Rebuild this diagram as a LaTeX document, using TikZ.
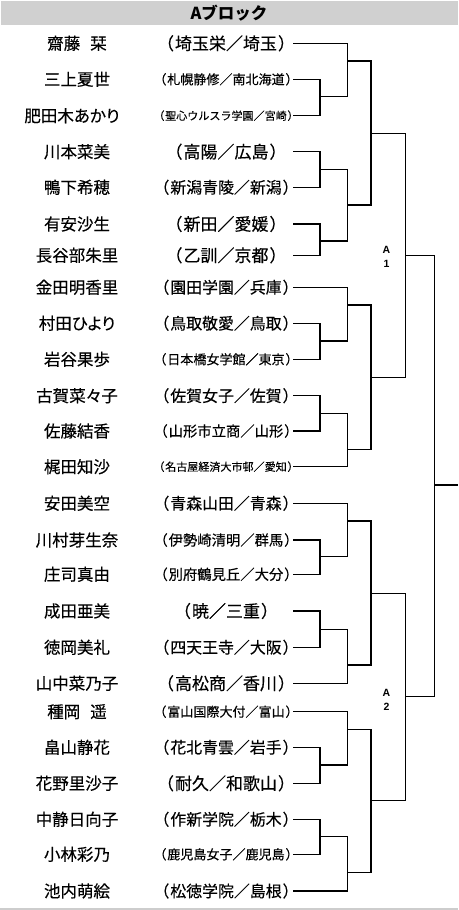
\documentclass[tikz,border=0pt]{standalone}
\usepackage{fontspec}
\usepackage{graphicx}
\newfontfamily\jp[FakeBold=0.3]{Noto Sans CJK JP}
\newfontfamily\jph{Noto Sans CJK JP}
\newfontfamily\jpn[RawFeature=+palt,FakeBold=0.3]{Noto Sans CJK JP}
\newfontfamily\lsans{Liberation Sans}
\definecolor{hdr}{RGB}{208,208,208}
\definecolor{botline}{RGB}{205,205,205}
\newsavebox\schbox
\newcommand\school[1]{\sbox\schbox{（\kern1pt#1\kern1pt）}\ifdim\wd\schbox>145pt\resizebox{145pt}{!}{\usebox\schbox}\else\usebox\schbox\fi}
\newcommand\isp{{\fontsize{10}{10}\selectfont　}}
\tikzset{
  nm/.style={inner sep=0pt,font=\jpn\fontsize{16.5}{18}\selectfont},
  sc/.style={inner sep=0pt,font=\jp\fontsize{17}{19}\selectfont},
  br/.style={draw=black,line width=1.2pt},
  lbl/.style={inner sep=0pt,font=\lsans\bfseries\fontsize{10.5}{11}\selectfont},
}
\begin{document}
\begin{tikzpicture}[x=1pt,y=-1pt]
\useasboundingbox (0,0) rectangle (458,910);
% header
\fill[hdr] (1,1) rectangle (458,25);
\node[inner sep=0pt,font=\jph\bfseries\fontsize{16.5}{18}\selectfont] (hd) at (229,13) {Aブロック};
\draw[botline,line width=1.2pt] (0,909) -- (458,909);
% names
\node[nm] (p1) at (77,43.3) {齋藤\isp 栞};
\node[nm] (p2) at (77,79.3) {三上夏世};
\node[nm] (p3) at (72,115.7) {肥田木あかり};
\node[nm] (p4) at (77,151.7) {川本菜美};
\node[nm] (p5) at (77,187.3) {鴨下希穂};
\node[nm] (p6) at (77,224) {有安沙生};
\node[nm] (p7) at (77,255.3) {長谷部朱里};
\node[nm] (p8) at (77,287.3) {金田明香里};
\node[nm] (p9) at (77,323.3) {村田ひより};
\node[nm] (p10) at (77,359.3) {岩谷果歩};
\node[nm] (p11) at (77,395.7) {古賀菜々子};
\node[nm] (p12) at (77,431) {佐藤結香};
\node[nm] (p13) at (77,466.7) {梶田知沙};
\node[nm] (p14) at (77,503.3) {安田美空};
\node[nm] (p15) at (77,540) {川村芽生奈};
\node[nm] (p16) at (77,574.3) {庄司真由};
\node[nm] (p17) at (77,611) {成田亜美};
\node[nm] (p18) at (77,647.3) {徳岡美礼};
\node[nm] (p19) at (77,683.3) {山中菜乃子};
\node[nm] (p20) at (77,711.7) {種岡\isp 遥};
\node[nm] (p21) at (77,747.3) {畠山静花};
\node[nm] (p22) at (77,783.3) {花野里沙子};
\node[nm] (p23) at (77,819.3) {中静日向子};
\node[nm] (p24) at (77,854.3) {小林彩乃};
\node[nm] (p25) at (77,891) {池内萌絵};
% schools
\node[sc] (s1) at (226,43.3) {\school{埼玉栄／埼玉}};
\node[sc] (s2) at (226,79.3) {\school{札幌静修／南北海道}};
\node[sc] (s3) at (226,115.7) {\school{聖心ウルスラ学園／宮崎}};
\node[sc] (s4) at (226,151.7) {\school{高陽／広島}};
\node[sc] (s5) at (226,187.3) {\school{新潟青陵／新潟}};
\node[sc] (s6) at (226,224) {\school{新田／愛媛}};
\node[sc] (s7) at (226,255.3) {\school{乙訓／京都}};
\node[sc] (s8) at (226,287.3) {\school{園田学園／兵庫}};
\node[sc] (s9) at (226,323.3) {\school{鳥取敬愛／鳥取}};
\node[sc] (s10) at (226,359.3) {\school{日本橋女学館／東京}};
\node[sc] (s11) at (226,395.7) {\school{佐賀女子／佐賀}};
\node[sc] (s12) at (226,431) {\school{山形市立商／山形}};
\node[sc] (s13) at (226,466.7) {\school{名古屋経済大市邨／愛知}};
\node[sc] (s14) at (226,503.3) {\school{青森山田／青森}};
\node[sc] (s15) at (226,540) {\school{伊勢崎清明／群馬}};
\node[sc] (s16) at (226,574.3) {\school{別府鶴見丘／大分}};
\node[sc] (s17) at (226,611) {\school{暁／三重}};
\node[sc] (s18) at (226,647.3) {\school{四天王寺／大阪}};
\node[sc] (s19) at (226,683.3) {\school{高松商／香川}};
\node[sc] (s20) at (226,711.7) {\school{富山国際大付／富山}};
\node[sc] (s21) at (226,747.3) {\school{花北青雲／岩手}};
\node[sc] (s22) at (226,783.3) {\school{耐久／和歌山}};
\node[sc] (s23) at (226,819.3) {\school{作新学院／栃木}};
\node[sc] (s24) at (226,854.3) {\school{鹿児島女子／鹿児島}};
\node[sc] (s25) at (226,891) {\school{松徳学院／島根}};
% levels
\coordinate (L1) at (320,0);
\coordinate (L2) at (347.7,0);
\coordinate (L3) at (371,0);
\coordinate (L4) at (405.7,0);
\coordinate (L5) at (434.3,0);
\coordinate (E) at (458,0);
% stub starts
\coordinate (r1) at (293,43.3);
\coordinate (r2) at (293,79.3);
\coordinate (r3) at (293,115.7);
\coordinate (r4) at (293,151.7);
\coordinate (r5) at (293,187.3);
\coordinate (r6) at (293,224);
\coordinate (r7) at (293,255.3);
\coordinate (r8) at (293,287.3);
\coordinate (r9) at (293,323.3);
\coordinate (r10) at (293,359.3);
\coordinate (r11) at (293,395.7);
\coordinate (r12) at (293,431);
\coordinate (r13) at (293,466.7);
\coordinate (r14) at (293,503.3);
\coordinate (r15) at (293,540);
\coordinate (r16) at (293,574.3);
\coordinate (r17) at (293,611);
\coordinate (r18) at (293,647.3);
\coordinate (r19) at (293,683.3);
\coordinate (r20) at (293,711.7);
\coordinate (r21) at (293,747.3);
\coordinate (r22) at (293,783.3);
\coordinate (r23) at (293,819.3);
\coordinate (r24) at (293,854.3);
\coordinate (r25) at (293,891);
% level 1 (pairs)
\draw[br] (r2) -| (r3 -| L1) -- (r3);   \coordinate (m23) at (320,96.7);
\draw[br] (r4) -| (r5 -| L1) -- (r5);   \coordinate (m45) at (320,169.3);
\draw[br] (r6) -| (r7 -| L1) -- (r7);   \coordinate (m67) at (320,241);
\draw[br] (r9) -| (r10 -| L1) -- (r10); \coordinate (m910) at (320,341);
\draw[br] (r11) -| (r12 -| L1) -- (r12); \coordinate (m1112) at (320,413.3);
\draw[br] (r15) -| (r16 -| L1) -- (r16); \coordinate (m1516) at (320,556.7);
\draw[br] (r17) -| (r18 -| L1) -- (r18); \coordinate (m1718) at (320,629.3);
\draw[br] (r21) -| (r22 -| L1) -- (r22); \coordinate (m2122) at (320,765);
\draw[br] (r23) -| (r24 -| L1) -- (r24); \coordinate (m2324) at (320,836.7);
% level 2
\draw[br] (r1) -| (m23 -| L2) -- (m23);       \coordinate (na) at (347.7,61);
\draw[br] (m45) -| (m67 -| L2) -- (m67);      \coordinate (nb) at (347.7,205);
\draw[br] (r8) -| (m910 -| L2) -- (m910);     \coordinate (nc) at (347.7,305);
\draw[br] (m1112) -| (r13 -| L2) -- (r13);    \coordinate (nd) at (347.7,449.3);
\draw[br] (r14) -| (m1516 -| L2) -- (m1516);  \coordinate (ne) at (347.7,521);
\draw[br] (m1718) -| (r19 -| L2) -- (r19);    \coordinate (nf) at (347.7,665);
\draw[br] (r20) -| (m2122 -| L2) -- (m2122);  \coordinate (ng) at (347.7,729.3);
\draw[br] (m2324) -| (r25 -| L2) -- (r25);    \coordinate (nh) at (347.7,872.7);
% level 3
\draw[br] (na) -| (nb -| L3) -- (nb); \coordinate (oab) at (371,133.3);
\draw[br] (nc) -| (nd -| L3) -- (nd); \coordinate (ocd) at (371,377.3);
\draw[br] (ne) -| (nf -| L3) -- (nf); \coordinate (oef) at (371,593.3);
\draw[br] (ng) -| (nh -| L3) -- (nh); \coordinate (ogh) at (371,800.7);
% level 4
\draw[br] (oab) -| (ocd -| L4) -- (ocd); \coordinate (t1) at (405.7,255.5);
\draw[br] (oef) -| (ogh -| L4) -- (ogh); \coordinate (t2) at (405.7,696.7);
% level 5
\draw[br] (t1) -| (t2 -| L5) -- (t2); \coordinate (fin) at (434.3,485);
\draw[br] (fin) -- (fin -| E);
% labels
\node[lbl] (A1a) at (386.5,250) {A};
\node[lbl] (A1b) at (386.5,263.5) {1};
\node[lbl] (A2a) at (386.5,693) {A};
\node[lbl] (A2b) at (386.5,706.5) {2};
\end{tikzpicture}
\end{document}
